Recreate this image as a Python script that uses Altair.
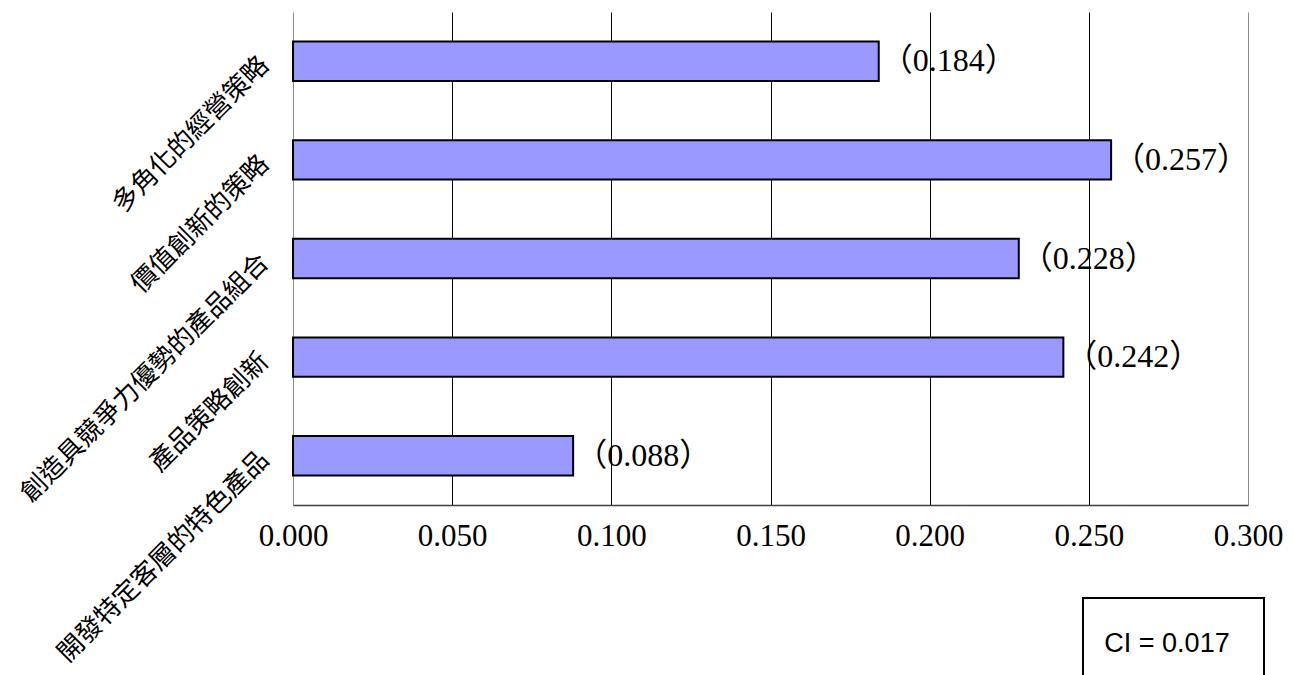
import altair as alt
import pandas as pd

# Strategy categories (top to bottom) and their weights
strategies = [
    "多角化的經營策略",
    "價值創新的策略",
    "創造具競爭力優勢的產品組合",
    "產品策略創新",
    "開發特定客層的特色產品",
]
weights = [0.184, 0.257, 0.228, 0.242, 0.088]
x_ticks = [0.0, 0.05, 0.10, 0.15, 0.20, 0.25, 0.30]
ci_value = 0.017

df = pd.DataFrame({"strategy": strategies, "weight": weights})
ci_df = pd.DataFrame({"label": [f"CI = {ci_value:.3f}"]})

serif = "Liberation Serif, Noto Sans CJK TC"

x_enc = alt.X(
    "weight:Q",
    scale=alt.Scale(domain=[0, 0.3], nice=False, zero=True),
    axis=alt.Axis(
        values=x_ticks,
        format=".3f",
        title=None,
        ticks=False,
        labelFont="Liberation Serif",
        labelFontSize=31,
        labelColor="#000000",
        labelPadding=16,
        labelFlush=False,
        domainColor="#404040",
        domainWidth=1.5,
        grid=True,
        gridColor={
            "condition": {"test": "datum.value === 0 || datum.value === 0.3", "value": "#8c8c8c"},
            "value": "#000000",
        },
        gridWidth=1,
        gridOpacity=1,
    ),
)
y_enc = alt.Y(
    "strategy:N",
    sort=None,
    scale=alt.Scale(paddingInner=0.6, paddingOuter=0.3),
    axis=alt.Axis(
        title=None,
        ticks=False,
        domain=False,
        labelAngle=-45,
        labelAlign="right",
        labelBaseline="middle",
        labelFont="Noto Sans CJK TC",
        labelFontSize=26,
        labelColor="#000000",
        labelPadding=29,
        labelLimit=600,
    ),
)

bars = alt.Chart(df).mark_bar(
    color="#9999FF", stroke="#000000", strokeWidth=2
).encode(x=x_enc, y=y_enc)

labels = alt.Chart(df).transform_calculate(
    text="'（' + format(datum.weight, '.3f') + '）'"
).mark_text(
    align="left", baseline="middle", dx=2, font=serif, fontSize=32, color="#000000"
).encode(
    x=alt.X("weight:Q"),
    y=alt.Y("strategy:N", sort=None),
    text="text:N",
)

ci_box = alt.Chart(ci_df).mark_rect(
    fill="#ffffff", stroke="#000000", strokeWidth=2
).encode(
    x=alt.value(790), x2=alt.value(971), y=alt.value(586), y2=alt.value(700)
)

ci_text = alt.Chart(ci_df).mark_text(
    align="center", baseline="middle", font="Liberation Sans", fontSize=27, color="#000000"
).encode(
    x=alt.value(874), y=alt.value(632), text="label:N"
)

chart = alt.layer(bars, labels, ci_box, ci_text).properties(
    width=955,
    height=493,
    autosize=alt.AutoSizeParams(type="none"),
    padding={"left": 293, "top": 12, "right": 46, "bottom": 170},
    background="#ffffff",
).configure_view(stroke=None)

chart.save("out.html", embed_options={"renderer": "svg", "actions": False})
